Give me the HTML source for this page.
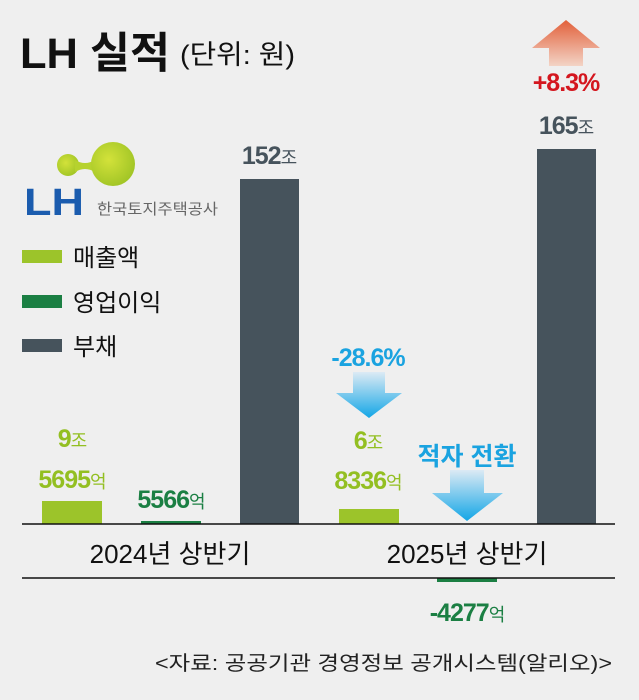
<!DOCTYPE html><html><head><meta charset="utf-8"><style>
body{margin:0;background:#efefef}
svg{display:block}
text{font-family:"Liberation Sans","Noto Sans CJK KR",sans-serif}
</style></head><body>
<svg width="639" height="700" viewBox="0 0 639 700">
<defs>
<linearGradient id="up" x1="0" y1="0" x2="0" y2="1"><stop offset="0" stop-color="#e2603a"/><stop offset="1" stop-color="#f3d4c6"/></linearGradient>
<linearGradient id="dn" x1="0" y1="0" x2="0" y2="1"><stop offset="0" stop-color="#dceaf4"/><stop offset="1" stop-color="#13a6e6"/></linearGradient>
<radialGradient id="gb" cx="0.4" cy="0.4" r="0.7"><stop offset="0" stop-color="#d3e23a"/><stop offset="1" stop-color="#9cc224"/></radialGradient>
</defs>
<rect width="639" height="700" fill="#efefef"/>
<text x="20" y="68" font-size="43" font-weight="bold" fill="#111" textLength="150" lengthAdjust="spacingAndGlyphs">LH 실적</text>
<text x="180" y="64" font-size="27" fill="#111" textLength="115" lengthAdjust="spacingAndGlyphs">(단위: 원)</text>
<!-- logo -->
<circle cx="68" cy="165" r="11" fill="url(#gb)"/>
<path d="M75 160 Q85 166 95 160 L95 172 Q85 166 75 172Z" fill="#b6d22e"/>
<circle cx="113" cy="164" r="22" fill="url(#gb)"/>
<text x="24" y="215" font-size="38" font-weight="bold" fill="#1b5cae" textLength="60" lengthAdjust="spacingAndGlyphs">LH</text>
<text x="97" y="214" font-size="15" fill="#666" textLength="121" lengthAdjust="spacingAndGlyphs">한국토지주택공사</text>
<!-- legend -->
<rect x="22" y="250" width="40" height="13" fill="#9cc42a"/><text x="73" y="266" font-size="24" fill="#111">매출액</text>
<rect x="22" y="295" width="40" height="13" fill="#1b7f43"/><text x="73" y="311" font-size="24" fill="#111">영업이익</text>
<rect x="22" y="339" width="40" height="13" fill="#46535c"/><text x="73" y="355" font-size="24" fill="#111">부채</text>
<!-- bars -->
<rect x="42" y="501" width="60" height="23" fill="#9cc42a"/>
<rect x="141" y="521" width="60" height="3" fill="#1b7f43"/>
<rect x="240" y="179" width="59" height="345" fill="#46535c"/>
<rect x="339" y="509" width="60" height="15" fill="#9cc42a"/>
<rect x="437" y="578" width="60" height="4" fill="#1b7f43"/>
<rect x="537" y="149" width="59" height="375" fill="#46535c"/>
<line x1="22" y1="524" x2="615" y2="524" stroke="#111" stroke-width="1.5"/>
<line x1="22" y1="578" x2="615" y2="578" stroke="#111" stroke-width="1.5"/>
<text x="170" y="563" font-size="26" fill="#111" text-anchor="middle">2024년 상반기</text>
<text x="467" y="563" font-size="26" fill="#111" text-anchor="middle">2025년 상반기</text>
<!-- labels -->
<g font-weight="bold" text-anchor="middle" letter-spacing="-1">
<text x="72" y="447" font-size="25" fill="#93bf22">9<tspan font-size="18" font-weight="normal">조</tspan></text>
<text x="72" y="488" font-size="25" fill="#93bf22">5695<tspan font-size="18" font-weight="normal">억</tspan></text>
<text x="171" y="508" font-size="25" fill="#1b7f43">5566<tspan font-size="18" font-weight="normal">억</tspan></text>
<text x="269" y="164" font-size="25" fill="#46535c">152<tspan font-size="18" font-weight="normal">조</tspan></text>
<text x="566" y="134" font-size="25" fill="#46535c">165<tspan font-size="18" font-weight="normal">조</tspan></text>
<text x="566" y="91" font-size="25" fill="#d4161e">+8.3%</text>
<text x="368" y="366" font-size="25" fill="#1aa3e0">-28.6%</text>
<text x="368" y="449" font-size="25" fill="#93bf22">6<tspan font-size="18" font-weight="normal">조</tspan></text>
<text x="368" y="489" font-size="25" fill="#93bf22">8336<tspan font-size="18" font-weight="normal">억</tspan></text>
<text x="467" y="465" font-size="25" fill="#1aa3e0" letter-spacing="0">적자 전환</text>
<text x="467" y="621" font-size="25" fill="#1b7f43">-4277<tspan font-size="18" font-weight="normal">억</tspan></text>
</g>
<!-- arrows -->
<path d="M566 20 L600 48 L583 48 L583 66 L549 66 L549 48 L532 48Z" fill="url(#up)"/>
<path d="M353 372 L385 372 L385 393 L402 393 L369 418 L336 393 L353 393Z" fill="url(#dn)"/>
<path d="M450 470 L484 470 L484 493 L503 493 L467 521 L432 493 L450 493Z" fill="url(#dn)"/>
<text x="612" y="670" font-size="20" fill="#222" text-anchor="end" textLength="457" lengthAdjust="spacingAndGlyphs">&lt;자료: 공공기관 경영정보 공개시스템(알리오)&gt;</text>
</svg>
</body></html>
